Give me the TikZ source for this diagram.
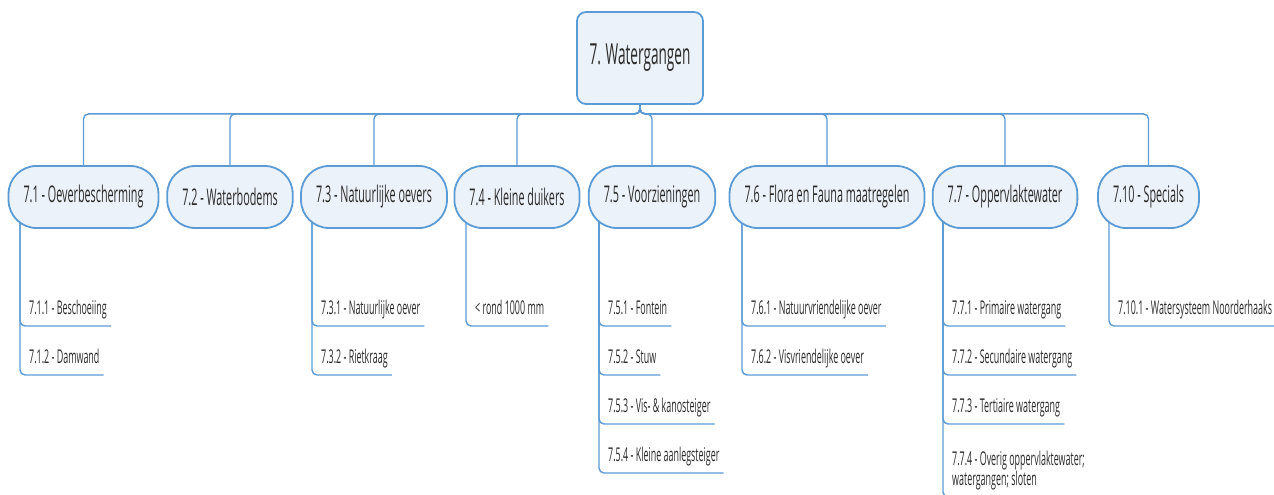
\documentclass[tikz,border=0pt]{standalone}
\usepackage{fontspec}
\setmainfont{Open Sans}[FakeStretch=0.47]
\usepackage{tikz}
\usetikzlibrary{backgrounds}
\definecolor{mmline}{HTML}{5B9BD5}
\definecolor{mmfill}{HTML}{EBF2F9}
\definecolor{mmtext}{HTML}{2B2B2B}
\tikzset{
  mainbox/.style={draw=mmline, fill=mmfill, line width=1.8pt, rounded corners=9pt,
    minimum width=126pt, minimum height=92pt, text=mmtext, font=\fontsize{29}{33}\selectfont},
  topic/.style={draw=mmline, fill=mmfill, line width=1.8pt, rounded corners=28pt,
    minimum height=62pt, inner xsep=15pt, text=mmtext, font=\fontsize{23}{27}\selectfont},
  sub/.style={anchor=south west, inner xsep=4pt, inner ysep=0pt, text depth=11pt,
    text=mmtext, font=\fontsize{19}{20}\selectfont},
  conn/.style={draw=mmline, line width=1.4pt, rounded corners=5pt},
}
\begin{document}
\begin{tikzpicture}[x=1pt, y=-1pt]
  \useasboundingbox (0,0) rectangle (1274,495);
  \node[mainbox] (main) at (640,58) {7. Watergangen};
  % hoofdstukken
  \node[topic] (t71)  at (83.5,197)  {7.1 - Oeverbescherming};
  \node[topic] (t72)  at (230,197)   {7.2 - Waterbodems};
  \node[topic] (t73)  at (374,197)   {7.3 - Natuurlijke oevers};
  \node[topic] (t74)  at (517,197)   {7.4 - Kleine duikers};
  \node[topic] (t75)  at (652,197)   {7.5 - Voorzieningen};
  \node[topic] (t76)  at (827,197)   {7.6 - Flora en Fauna maatregelen};
  \node[topic] (t77)  at (1005,197)  {7.7 - Oppervlaktewater};
  \node[topic] (t710) at (1148.5,197) {7.10 - Specials};
  % paragrafen
  \coordinate (r71) at (20,220);
  \node[sub] (c711) at (25,326) {7.1.1 - Beschoeiing};
  \node[sub] (c712) at (25,375) {7.1.2 - Damwand};
  \coordinate (r73) at (312,220);
  \node[sub] (c731) at (317,326) {7.3.1 - Natuurlijke oever};
  \node[sub] (c732) at (317,375) {7.3.2 - Rietkraag};
  \coordinate (r74) at (466,220);
  \node[sub] (c741) at (471,326) {< rond 1000 mm};
  \coordinate (r75) at (599,220);
  \node[sub] (c751) at (604,326) {7.5.1 - Fontein};
  \node[sub] (c752) at (604,375) {7.5.2 - Stuw};
  \node[sub] (c753) at (604,424) {7.5.3 - Vis- \& kanosteiger};
  \node[sub] (c754) at (604,473) {7.5.4 - Kleine aanlegsteiger};
  \coordinate (r76) at (742,220);
  \node[sub] (c761) at (747,326) {7.6.1 - Natuurvriendelijke oever};
  \node[sub] (c762) at (747,375) {7.6.2 - Visvriendelijke oever};
  \coordinate (r77) at (943,220);
  \node[sub] (c771) at (948,326) {7.7.1 - Primaire watergang};
  \node[sub] (c772) at (948,375) {7.7.2 - Secundaire watergang};
  \node[sub] (c773) at (948,424) {7.7.3 - Tertiaire watergang};
  \node[sub, align=left] (c774) at (948,497) {7.7.4 - Overig oppervlaktewater;\\watergangen; sloten};
  \coordinate (r710) at (1109,220);
  \node[sub] (c7101) at (1114,326) {7.10.1 - Watersysteem Noorderhaaks};
  \begin{scope}[on background layer]
    \foreach \t in {t71,t72,t73,t74,t75,t76,t77,t710}
      \draw[conn] (main.south) -- ++(0,9) -| (\t.north);
    \foreach \r/\c in {r71/c711,r71/c712,r73/c731,r73/c732,r74/c741,
        r75/c751,r75/c752,r75/c753,r75/c754,r76/c761,r76/c762,
        r77/c771,r77/c772,r77/c773,r77/c774,r710/c7101}
      \draw[conn] (\r) |- (\c.south east);
  \end{scope}
\end{tikzpicture}
\end{document}
